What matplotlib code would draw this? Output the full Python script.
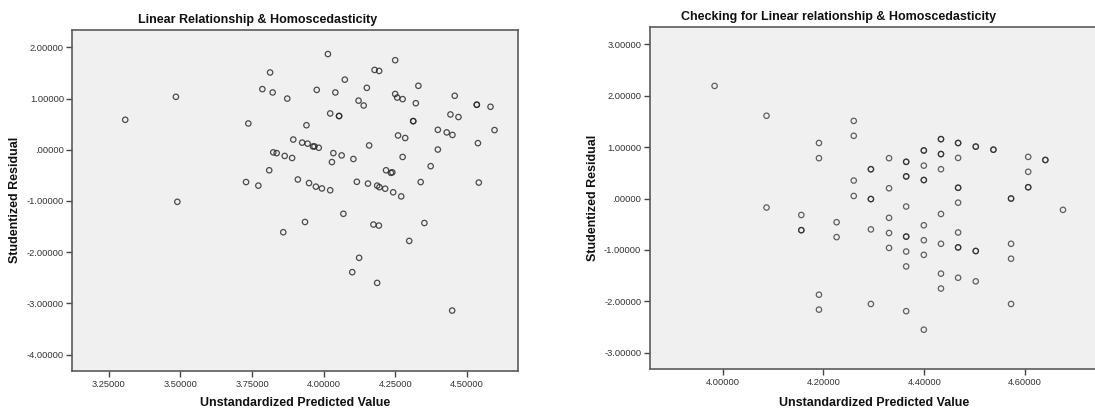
import matplotlib
matplotlib.use("Agg")
import matplotlib.pyplot as plt
from matplotlib.ticker import FuncFormatter

plt.rcParams['font.family'] = ['Liberation Sans', 'DejaVu Sans']

# left chart: predicted value vs studentized residual
left_pred = [3.307, 3.484, 3.489, 3.729, 3.737, 3.772, 3.786, 3.810, 3.813, 3.822,
             3.824, 3.836, 3.859, 3.864, 3.873, 3.890, 3.894, 3.910, 3.925, 3.935,
             3.940, 3.944, 3.949, 3.963, 3.968, 3.973, 3.983, 3.994, 4.015, 4.023,
             4.023, 4.029, 4.034, 4.041, 4.054, 4.054, 4.063, 4.069, 4.074, 4.100,
             4.104, 4.116, 4.122, 4.124, 4.140, 4.151, 4.155, 4.159, 4.174, 4.178,
             4.187, 4.187, 4.193, 4.194, 4.195, 4.215, 4.218, 4.235, 4.240, 4.243,
             4.250, 4.250, 4.257, 4.260, 4.271, 4.276, 4.276, 4.285, 4.299, 4.313,
             4.313, 4.322, 4.331, 4.339, 4.352, 4.374, 4.399, 4.399, 4.430, 4.443,
             4.449, 4.450, 4.458, 4.471, 4.535, 4.535, 4.539, 4.542, 4.583, 4.597,
             3.976]
left_resid = [0.586, 1.035, -1.016, -0.63, 0.514, -0.70, 1.185, -0.40, 1.51, 1.12,
              -0.05, -0.065, -1.61, -0.12, 1.00, -0.16, 0.20, -0.58, 0.14, -1.41,
              0.48, 0.12, -0.65, 0.065, 0.065, -0.72, 0.04, -0.755, 1.87, 0.71,
              -0.79, -0.24, -0.065, 1.12, 0.66, 0.66, -0.11, -1.25, 1.37, -2.39,
              -0.18, -0.625, 0.96, -2.11, 0.865, 1.21, -0.66, 0.085, -1.46, 1.56,
              -0.70, -2.60, -1.48, 1.54, -0.73, -0.76, -0.40, -0.45, -0.44, -0.83,
              1.75, 1.09, 1.02, 0.28, -0.91, 0.99, -0.14, 0.23, -1.78, 0.56,
              0.56, 0.91, 1.25, -0.63, -1.43, -0.32, 0.39, 0.005, 0.34, 0.69,
              -3.14, 0.29, 1.055, 0.64, 0.88, 0.88, 0.13, -0.64, 0.84, 0.385,
              1.17]

# right chart
right_pred = [3.984, 4.087, 4.087, 4.156, 4.156, 4.156, 4.191, 4.191, 4.191, 4.191,
              4.226, 4.226, 4.260, 4.260, 4.260, 4.260,
              4.294, 4.294, 4.294, 4.294, 4.294, 4.294,
              4.330, 4.330, 4.330, 4.330, 4.330,
              4.364, 4.364, 4.364, 4.364, 4.364, 4.364, 4.364, 4.364, 4.364, 4.364,
              4.399, 4.399, 4.399, 4.399, 4.399, 4.399, 4.399, 4.399, 4.399,
              4.433, 4.433, 4.433, 4.433, 4.433, 4.433, 4.433, 4.433, 4.433,
              4.467, 4.467, 4.467, 4.467, 4.467, 4.467, 4.467, 4.467, 4.467, 4.467,
              4.502, 4.502, 4.502, 4.502, 4.502,
              4.537, 4.537,
              4.572, 4.572, 4.572, 4.572, 4.572,
              4.606, 4.606, 4.606, 4.606,
              4.640, 4.640, 4.675]
right_resid = [2.19, 1.61, -0.175, -0.32, -0.615, -0.615, 1.08, 0.785, -1.87, -2.16,
               -0.46, -0.75, 1.51, 1.22, 0.35, 0.05,
               0.57, 0.57, -0.01, -0.01, -0.60, -2.05,
               0.785, 0.20, -0.375, -0.67, -0.96,
               0.714, 0.714, 0.43, 0.43, -0.155, -0.74, -0.74, -1.03, -1.32, -2.19,
               0.935, 0.935, 0.64, 0.36, 0.36, -0.52, -0.81, -1.095, -2.55,
               1.155, 1.155, 0.865, 0.865, 0.57, -0.30, -0.88, -1.46, -1.75,
               1.08, 1.08, 0.79, 0.21, 0.21, -0.08, -0.66, -0.95, -0.95, -1.54,
               1.01, 1.01, -1.02, -1.02, -1.61,
               0.95, 0.95,
               0.0, 0.0, -0.88, -1.17, -2.05,
               0.81, 0.52, 0.22, 0.22,
               0.75, 0.75, -0.22]


def spss_fmt(v, pos=None):
    s = "%.5f" % v
    if s.startswith("0."):
        s = s[1:]
    elif s == "-0.00000":
        s = ".00000"
    return s


def style_ax(ax, xticks, yticks):
    ax.set_facecolor('#f0f0f0')
    for sp in ax.spines.values():
        sp.set_color('#5a5a5a')
        sp.set_linewidth(1.2)
    ax.set_xticks(xticks)
    ax.set_yticks(yticks)
    ax.xaxis.set_major_formatter(FuncFormatter(spss_fmt))
    ax.yaxis.set_major_formatter(FuncFormatter(spss_fmt))
    ax.tick_params(direction='out', length=4, width=1, color='#444444',
                   labelsize=6.7, labelcolor='#333333', pad=2)


fig = plt.figure(figsize=(10.95, 4.08), dpi=100)

ax1 = fig.add_axes([0.0660, 0.0895, 0.4068, 0.837])
ax1.scatter(left_pred, left_resid, s=15, facecolors='none',
            edgecolors='#222222', linewidths=0.9, alpha=0.8)
ax1.set_xlim(3.122, 4.678)
ax1.set_ylim(-4.33, 2.34)
style_ax(ax1, [3.25, 3.5, 3.75, 4.0, 4.25, 4.5], [-4, -3, -2, -1, 0, 1, 2])

ax2 = fig.add_axes([0.5932, 0.0949, 0.4114, 0.8382])
ax2.scatter(right_pred, right_resid, s=15, facecolors='none',
            edgecolors='#222222', linewidths=0.9, alpha=0.7)
ax2.set_xlim(3.855, 4.7485)
ax2.set_ylim(-3.32, 3.33)
style_ax(ax2, [4.0, 4.2, 4.4, 4.6], [-3, -2, -1, 0, 1, 2, 3])

bold = dict(fontweight='bold', fontsize=9.0, color='#111111')
fig.text(258 / 1095, 1 - 20 / 408, 'Linear Relationship & Homoscedasticity',
         ha='center', va='center', **bold)
fig.text(839 / 1095, 1 - 17 / 408, 'Checking for Linear relationship & Homoscedasticity',
         ha='center', va='center', **bold)
fig.text(15 / 1095, 1 - 200 / 408, 'Studentized Residual', rotation=90,
         ha='center', va='center', **bold)
fig.text(593 / 1095, 1 - 198 / 408, 'Studentized Residual', rotation=90,
         ha='center', va='center', **bold)
fig.text(295 / 1095, 1 - 403 / 408, 'Unstandardized Predicted Value',
         ha='center', va='center', **bold)
fig.text(874 / 1095, 1 - 403 / 408, 'Unstandardized Predicted Value',
         ha='center', va='center', **bold)

fig.savefig('out.png', dpi=100)
